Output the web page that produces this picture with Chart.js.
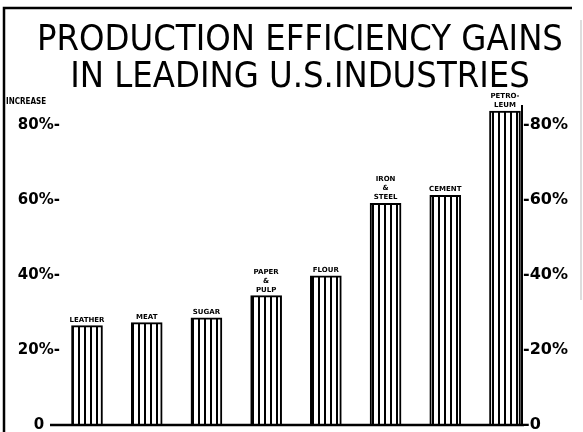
<!DOCTYPE html>
<html><head><meta charset="utf-8">
<script src="https://cdn.jsdelivr.net/npm/chart.js@4"></script>
<style>html,body{margin:0;padding:0;background:#fff;} #wrap{width:583px;height:432px;position:relative;}</style>
</head><body><div id="wrap"><canvas id="c"></canvas></div>
<script>
const categories = [["LEATHER"],["MEAT"],["SUGAR"],["PAPER","&","PULP"],["FLOUR"],["IRON","&","STEEL"],["CEMENT"],["PETRO-","LEUM"]];
const increasePct = [26.5, 27.3, 28.6, 34.5, 39.8, 59.1, 61.2, 83.7];
const tickValues = [0, 20, 40, 60, 80];
const leftTickLabels = ["0", "20%-", "40%-", "60%-", "80%-"];
const rightTickLabels = ["-0", "-20%", "-40%", "-60%", "-80%"];
const titleLines = ["PRODUCTION EFFICIENCY GAINS", "IN LEADING U.S.INDUSTRIES"];
const axisNote = "INCREASE";

const canvas = document.getElementById('c');
const ctx0 = canvas.getContext('2d');
function stripes(){
  const c = document.createElement('canvas'); c.width = 6; c.height = 4;
  const g = c.getContext('2d');
  g.fillStyle = '#fff'; g.fillRect(0,0,6,4);
  g.fillStyle = '#000'; g.fillRect(0,0,2,4);
  return ctx0.createPattern(c, 'repeat');
}
Chart.defaults.color = '#000';

const deco = {
  id: 'deco',
  beforeDraw(chart){
    const ctx = chart.ctx;
    ctx.save();
    ctx.fillStyle = '#fff'; ctx.fillRect(0,0,chart.width,chart.height);
    ctx.strokeStyle = '#000'; ctx.lineWidth = 2.5;
    ctx.beginPath(); ctx.moveTo(4, 432); ctx.lineTo(4, 8); ctx.lineTo(572, 8); ctx.stroke();
    ctx.strokeStyle = '#bbb'; ctx.lineWidth = 1;
    ctx.beginPath(); ctx.moveTo(581, 20); ctx.lineTo(581, 300); ctx.stroke();
    ctx.restore();
  },
  afterDatasetsDraw(chart){
    const ctx = chart.ctx, ys = chart.scales.y, ca = chart.chartArea;
    const y0 = ys.getPixelForValue(0);
    ctx.save();
    ctx.strokeStyle = '#000'; ctx.lineWidth = 2.5;
    ctx.beginPath(); ctx.moveTo(50, y0); ctx.lineTo(ca.right + 2, y0); ctx.stroke();
    ctx.fillStyle = '#000';
    ctx.font = 'bold 8px "DejaVu Sans Condensed", "DejaVu Sans"';
    ctx.textAlign = 'left'; ctx.textBaseline = 'alphabetic';
    ctx.fillText(axisNote, 6, 104);
    const meta = chart.getDatasetMeta(0);
    ctx.font = 'bold 7px "DejaVu Sans"'; ctx.textAlign = 'center';
    meta.data.forEach((bar, i) => {
      const lines = categories[i];
      lines.forEach((t, j) => {
        ctx.fillText(t, bar.x, bar.y - 4 - (lines.length - 1 - j) * 9);
      });
    });
    ctx.restore();
  }
};

const tickFont = {family: '"DejaVu Sans"', size: 15, weight: 'bold', lineHeight: 0.5};
new Chart(canvas, {
  type: 'bar',
  data: {
    datasets: [{
      data: increasePct.map((v, i) => ({x: i, y: v})),
      backgroundColor: stripes(),
      borderColor: '#000',
      borderWidth: 2,
      barThickness: 31,
      yAxisID: 'y'
    }]
  },
  options: {
    responsive: true, maintainAspectRatio: false, animation: false,
    layout: {padding: {left: 17, right: 0, top: 0, bottom: 7}},
    plugins: {
      legend: {display: false}, tooltip: {enabled: false},
      title: {display: true, text: titleLines, color: '#000',
        font: {family: '"Liberation Sans Narrow", "DejaVu Sans Condensed", sans-serif', size: 36, weight: 'normal', lineHeight: 1.03},
        padding: {top: 22, bottom: 10}}
    },
    scales: {
      x: {type: 'linear', min: -0.402, max: 7.285, offset: false, display: false},
      y: {type: 'linear', position: 'left', min: 0, max: 85,
        afterBuildTicks: s => { s.ticks = tickValues.map(v => ({value: v})); },
        afterFit: s => { s.width = 46; },
        ticks: {callback: v => leftTickLabels[tickValues.indexOf(v)], crossAlign: 'center', padding: 3, font: tickFont, color: '#000'},
        grid: {display: false, drawTicks: false}, border: {display: false}},
      y2: {type: 'linear', position: 'right', min: 0, max: 85,
        afterBuildTicks: s => { s.ticks = tickValues.map(v => ({value: v})); },
        afterFit: s => { s.width = 61; },
        ticks: {callback: v => rightTickLabels[tickValues.indexOf(v)], padding: 1, font: {family: '"DejaVu Sans"', size: 16, weight: 'bold', lineHeight: 0.5}, color: '#000'},
        grid: {display: false, drawTicks: false}, border: {display: true, color: '#000', width: 2}}
    }
  },
  plugins: [deco]
});
</script></body></html>
